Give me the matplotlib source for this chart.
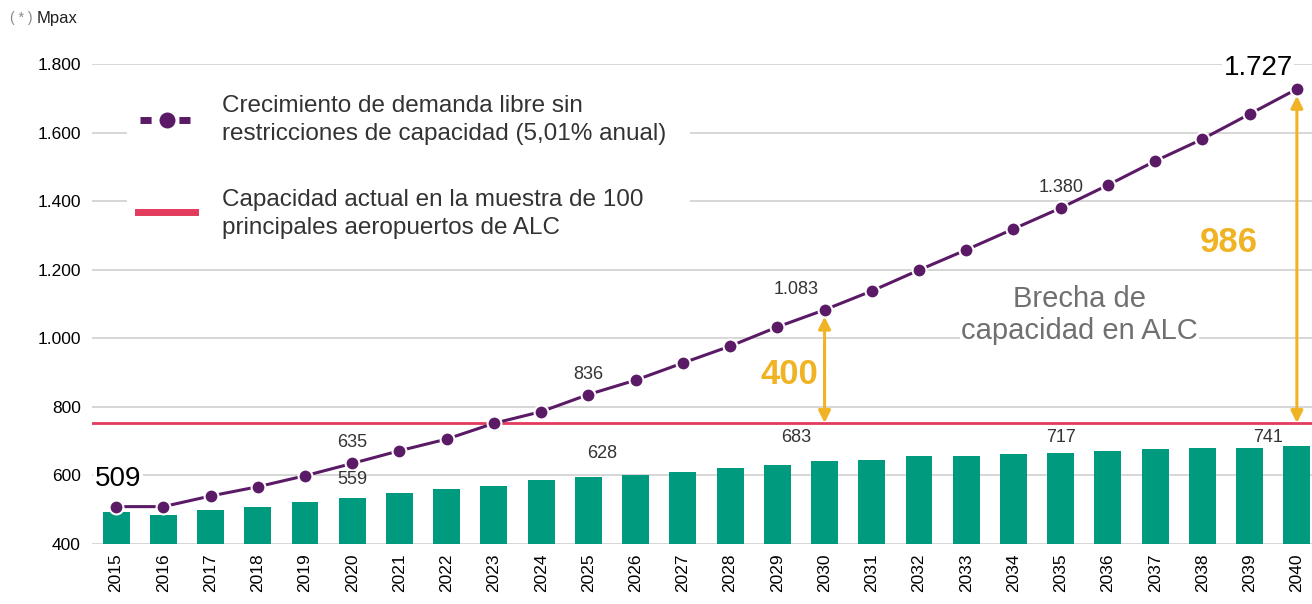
import numpy as np
import matplotlib.pyplot as plt
from matplotlib.lines import Line2D
from matplotlib.patches import Rectangle

plt.rcParams['font.family'] = ['Liberation Sans', 'DejaVu Sans']

# data
years = list(range(2015, 2041))
demand = [509, 509, 540, 567, 599, 635, 672, 706, 752, 786,
          836, 878, 928, 977, 1033, 1083, 1138, 1199, 1258, 1319,
          1380, 1447, 1517, 1581, 1654, 1727]
capacity_bars = [493, 484, 499, 508, 523, 534, 549, 560, 570, 586,
                 595, 600, 611, 621, 630, 641, 646, 656, 656, 662,
                 666, 671, 677, 681, 681, 685]
current_capacity = 753

# labelled values (text, x offset, y in data units)
demand_labels = {2020: ('635', 0.0), 2025: ('836', 0.0), 2030: ('1.083', -0.6), 2035: ('1.380', 0.0)}
bar_labels = {2020: ('559', 0.0, 587), 2025: ('628', 0.3, 665), 2030: ('683', -0.6, 712),
              2035: ('717', 0.0, 712), 2040: ('741', -0.62, 712)}
gaps = {2030: '400', 2040: '986'}

yticks = [400, 600, 800, 1000, 1200, 1400, 1600, 1800]

purple = '#5b1a66'
green = '#009a7e'
red = '#e33b5d'
orange = '#f0b323'

fig = plt.figure(figsize=(13.12, 6.04), dpi=100)
ax = fig.add_axes([92/1312, 60/604, 1 - 92/1312, 480/604])

x = np.array(years)
ax.bar(x, np.array(capacity_bars) - 400, bottom=400, width=0.57, color=green, zorder=2)
ax.axhline(current_capacity, color=red, lw=2, zorder=3)
ax.plot(x, demand, color=purple, lw=2.2, marker='o', ms=10, mfc=purple,
        mec='white', mew=1.5, zorder=5)

ax.set_xlim(2015 - 0.51, 2040 + 0.32)
ax.set_ylim(400, 1800)
ax.set_yticks(yticks)
ax.set_yticklabels([f'{v:,}'.replace(',', '.') for v in yticks], fontsize=12.5)
ax.set_xticks(x)
ax.set_xticklabels([str(y) for y in years], rotation=90, fontsize=12.5)
ax.tick_params(length=0)
ax.tick_params(axis='x', pad=7)
ax.tick_params(axis='y', pad=8)
ax.grid(axis='y', color='#d0d0d0', lw=1.2, zorder=0)
for s in ax.spines.values():
    s.set_visible(False)
ax.set_axisbelow(True)

# value labels
for yr, (t, dx) in demand_labels.items():
    v = demand[years.index(yr)]
    ax.text(yr + dx, v + 35, t, ha='center', va='bottom', fontsize=13, color='#333333', zorder=6)
for yr, (t, dx, yy) in bar_labels.items():
    ax.text(yr + dx, yy, t, ha='center', va='center', fontsize=13, color='#333333', zorder=6)
ax.text(2015.04, 590, '509', ha='center', va='center', fontsize=20, color='black', zorder=6,
        bbox=dict(facecolor='white', edgecolor='none', pad=1))
ax.text(2039.18, 1789, '1.727', ha='center', va='center', fontsize=20, color='black', zorder=6,
        bbox=dict(facecolor='white', edgecolor='none', pad=1))

# gap arrows
for yr, t in gaps.items():
    v = demand[years.index(yr)]
    ax.annotate('', xy=(yr, current_capacity), xytext=(yr, v - 20),
                arrowprops=dict(arrowstyle='<|-|>', color=orange, lw=2.2,
                                mutation_scale=18, shrinkA=0, shrinkB=0), zorder=6)
ax.text(2029.25, 895, gaps[2030], ha='center', va='center', fontsize=25,
        fontweight='bold', color=orange, zorder=6)
ax.text(2038.55, 1280, gaps[2040], ha='center', va='center', fontsize=25,
        fontweight='bold', color=orange, zorder=6)

ax.text(2035.4, 1068, 'Brecha de\ncapacidad en ALC', ha='center', va='center',
        fontsize=21, color='#707070', linespacing=1.2, zorder=4,
        bbox=dict(facecolor='white', edgecolor='none', pad=1))

# legend box
ax.add_patch(Rectangle((0.029, 0.61), 0.461, 0.375, transform=ax.transAxes,
                       facecolor='white', edgecolor='none', zorder=1))
fig.add_artist(Line2D([140/1312, 194/1312], [1 - 120/604] * 2, color=purple, lw=5,
                      linestyle=(0, (1.6, 1.2)), zorder=6))
fig.add_artist(Line2D([167/1312], [1 - 120/604], color=purple, marker='o', ms=13,
                      mec='white', mew=1.5, zorder=7))
fig.add_artist(Line2D([138/1312, 195/1312], [1 - 212/604] * 2, color=red, lw=5, zorder=6))
fig.text(222/1312, 1 - 120/604, 'Crecimiento de demanda libre sin\nrestricciones de capacidad (5,01% anual)',
         ha='left', va='center', fontsize=17.5, color='#333333', linespacing=1.3)
fig.text(222/1312, 1 - 214/604, 'Capacidad actual en la muestra de 100\nprincipales aeropuertos de ALC',
         ha='left', va='center', fontsize=17.5, color='#333333', linespacing=1.3)

fig.text(10/1312, 1 - 18/604, '( * )', ha='left', va='center', fontsize=10, color='#888888')
fig.text(37/1312, 1 - 18/604, 'Mpax', ha='left', va='center', fontsize=12, color='#222222')

fig.savefig('out.png', dpi=100)
